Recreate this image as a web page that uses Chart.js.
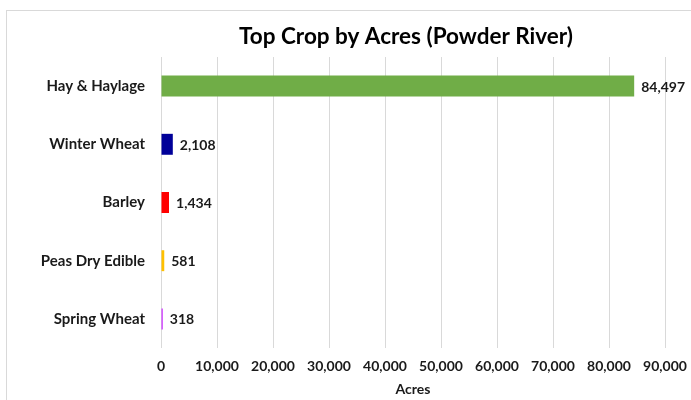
<!DOCTYPE html>
<html>
<head>
<meta charset="utf-8">
<script src="https://cdn.jsdelivr.net/npm/chart.js@4"></script>
<style>
  html, body { margin: 0; padding: 0; background: #fff; }
  #wrap { position: relative; width: 691px; height: 400px; overflow: hidden; }
  #frame { position: absolute; left: 6px; top: 10px; width: 800px; height: 500px; border: 1px solid #d9d9d9; }
  canvas { position: absolute; left: 0; top: 0; }
</style>
</head>
<body>
<div id="wrap">
  <div id="frame"></div>
  <canvas id="cropChart" width="691" height="400"></canvas>
</div>
<script>
  const chartTitle = "Top Crop by Acres (Powder River)";
  const crops = ["Hay & Haylage", "Winter Wheat", "Barley", "Peas Dry Edible", "Spring Wheat"];
  const acres = [84497, 2108, 1434, 581, 318];
  const barColors = ["#70AD47", "#000099", "#FF0000", "#FFC000", "#CC33FF"];
  const xTicks = [0, 10000, 20000, 30000, 40000, 50000, 60000, 70000, 80000, 90000];

  const fontFamily = "Lato, 'Open Sans', sans-serif";
  const textColor = "#1a1a1a";

  // title is centred on the whole chart frame, which runs past the right edge
  const frameTitle = {
    id: "frameTitle",
    afterDraw(chart) {
      const ctx = chart.ctx;
      ctx.save();
      ctx.font = "bold 22.5px " + fontFamily;
      ctx.fillStyle = "#000";
      ctx.textAlign = "center";
      ctx.textBaseline = "middle";
      ctx.fillText(chartTitle, 406, 37);
      ctx.restore();
    }
  };

  // value labels at the end of each bar
  const barLabels = {
    id: "barLabels",
    afterDatasetsDraw(chart) {
      const ctx = chart.ctx;
      const meta = chart.getDatasetMeta(0);
      ctx.save();
      ctx.font = "bold 14px " + fontFamily;
      ctx.fillStyle = textColor;
      ctx.textAlign = "left";
      ctx.textBaseline = "middle";
      meta.data.forEach((bar, i) => {
        ctx.fillText(acres[i].toLocaleString("en-US"), bar.x + 7, bar.y + 1);
      });
      ctx.restore();
    }
  };

  Chart.defaults.font.family = fontFamily;
  Chart.defaults.color = textColor;

  new Chart(document.getElementById("cropChart"), {
    type: "bar",
    data: {
      labels: crops,
      datasets: [{
        data: acres,
        backgroundColor: barColors,
        borderWidth: 0,
        categoryPercentage: 1,
        barPercentage: 0.36,
      }],
    },
    options: {
      indexAxis: "y",
      responsive: false,
      animation: false,
      layout: { padding: { left: 0, right: 0, top: 57, bottom: 2 } },
      plugins: {
        legend: { display: false },
        tooltip: { enabled: false },
        title: { display: false },
      },
      scales: {
        x: {
          min: 0,
          max: 90000,
          afterBuildTicks: (scale) => { scale.ticks = xTicks.map(v => ({ value: v })); },
          afterFit: (scale) => {
            scale.height = 50;
            scale.paddingLeft = 0;
            scale.paddingRight = 26;
          },
          grid: { color: "#d9d9d9", drawTicks: false },
          border: { display: false },
          ticks: {
            font: { size: 14, weight: "bold" },
            padding: 10,
            callback: (v) => Number(v).toLocaleString("en-US"),
          },
          title: {
            display: true,
            text: "Acres",
            font: { size: 14, weight: "bold" },
            padding: { top: 4, bottom: 0 },
          },
        },
        y: {
          afterFit: (scale) => { scale.width = 161; },
          grid: { display: false, drawTicks: false },
          border: { display: false },
          ticks: {
            font: { size: 15, weight: "bold" },
            padding: 16,
          },
        },
      },
    },
    plugins: [barLabels, frameTitle],
  });
</script>
</body>
</html>
